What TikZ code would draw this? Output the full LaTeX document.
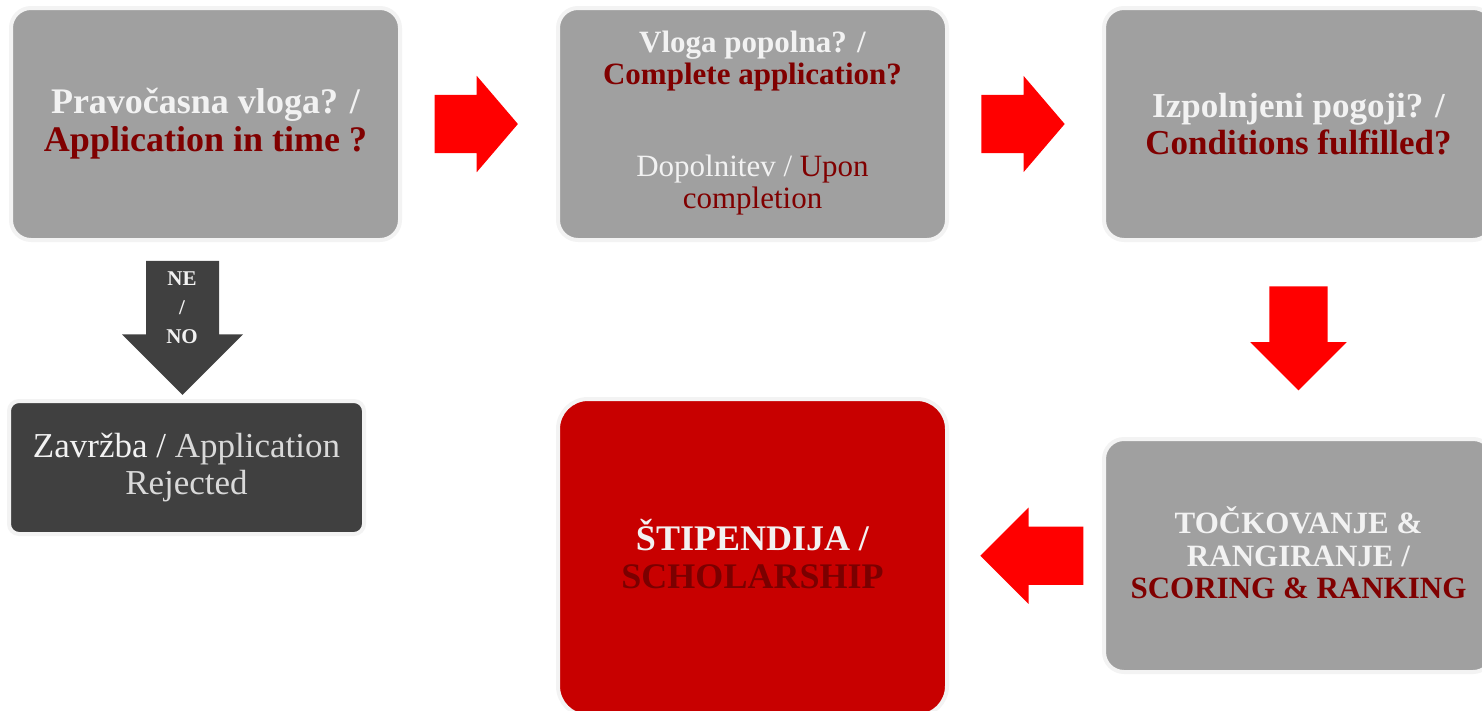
\documentclass[tikz,border=0pt]{standalone}
\usepackage{fontspec}
\setmainfont{Liberation Serif}
\usetikzlibrary{shapes.arrows}
\definecolor{boxGray}{HTML}{A0A0A0}
\definecolor{boxDark}{HTML}{404040}
\definecolor{boxRed}{HTML}{C80000}
\definecolor{ringGray}{HTML}{F3F3F3}
\definecolor{arrowRed}{HTML}{FF0000}
\definecolor{txtWhite}{HTML}{F2F2F2}
\definecolor{txtLight}{HTML}{D9D9D9}
\definecolor{txtRed}{HTML}{800000}
\definecolor{scholRed}{HTML}{7A0000}
\newcommand{\wtxt}[1]{\textcolor{txtWhite}{#1}}
\newcommand{\rtxt}[1]{\textcolor{txtRed}{#1}}
\newcommand{\fsize}[1]{\fontsize{#1}{1.06\dimexpr#1pt\relax}\selectfont}

\begin{document}
\begin{tikzpicture}[x=1pt, y=-1pt,
  stepBox/.style={rectangle, rounded corners=20pt, fill=boxGray, draw=ringGray,
    line width=4pt, inner sep=0pt, align=center},
  redArrow/.style={single arrow, fill=arrowRed, draw=none, inner sep=29pt,
    single arrow head extend=19pt, anchor=tail}]
  \useasboundingbox (0,0) rectangle (1482,710);
  \clip (0,0) rectangle (1482,710);

  % top row
  \node[stepBox, minimum width=389, minimum height=232, font=\fsize{36}\bfseries]
    (inTime) at (205.5,124) {\wtxt{Pravočasna vloga? /}\\\rtxt{Application in time ?}};
  \node[stepBox, minimum width=389, minimum height=232] (complete) at (752.5,124) {};
  \node[align=center, font=\fsize{31}\bfseries] (completeTxt) at (752.5,61)
    {\wtxt{Vloga popolna? /}\\\rtxt{Complete application?}};
  \node[align=center, font=\fsize{31}] (uponTxt) at (752.5,185)
    {\wtxt{Dopolnitev /} \rtxt{Upon}\\\rtxt{completion}};
  \node[stepBox, minimum width=389, minimum height=232, font=\fsize{35}\bfseries]
    (cond) at (1298.5,124) {\wtxt{Izpolnjeni pogoji? /}\\\rtxt{Conditions fulfilled?}};

  % bottom row
  \node[stepBox, fill=boxDark, rounded corners=10pt, minimum width=355, minimum height=133,
    font=\fsize{35}] (rejected) at (186.5,467.5)
    {\wtxt{Zavržba /} \textcolor{txtLight}{Application}\\\textcolor{txtLight}{Rejected}};
  \node[stepBox, fill=boxRed, rounded corners=30pt, minimum width=389, minimum height=317]
    (scholar) at (752.5,557.5) {};
  \node[align=center, font=\fsize{36}\bfseries] (scholarTxt) at (752.5,554)
    {\wtxt{ŠTIPENDIJA /}\\\textcolor{scholRed}{SCHOLARSHIP}};
  \node[stepBox, minimum width=389, minimum height=233] (scoring) at (1298.5,555.5) {};
  \node[align=center, font=\fontsize{31}{32.5}\selectfont\bfseries] (scoringTxt) at (1298.5,553)
    {\wtxt{TOČKOVANJE \&}\\\wtxt{RANGIRANJE /}\\\rtxt{SCORING \& RANKING}};

  % block arrows
  \path (inTime.east) -- (complete.west) node[redArrow, pos=0.21, minimum height=82,
    minimum width=96, single arrow tip angle=99] (toComplete) {};
  \path (complete.east) -- (cond.west) node[redArrow, pos=0.21, minimum height=82,
    minimum width=96, single arrow tip angle=99] (toCond) {};
  \path (cond.south) -- (scoring.north) node[redArrow, pos=0.226, minimum height=104,
    minimum width=96, shape border rotate=270] (toScoring) {};
  \path (scoring.west) -- (scholar.east) node[redArrow, pos=0.121, minimum height=103,
    minimum width=95, shape border rotate=180] (toScholar) {};
  \path (rejected.north |- inTime.south) -- (rejected.north) node[redArrow, fill=boxDark,
    pos=0.119, xshift=-4, inner sep=36.3pt, minimum height=134, minimum width=121,
    single arrow head extend=24pt, shape border rotate=270] (toRejected) {};
  \node[align=center, font=\fontsize{21}{29}\selectfont\bfseries, text=txtWhite]
    (noTxt) at (182,308) {NE\\/\\NO};
\end{tikzpicture}
\end{document}
